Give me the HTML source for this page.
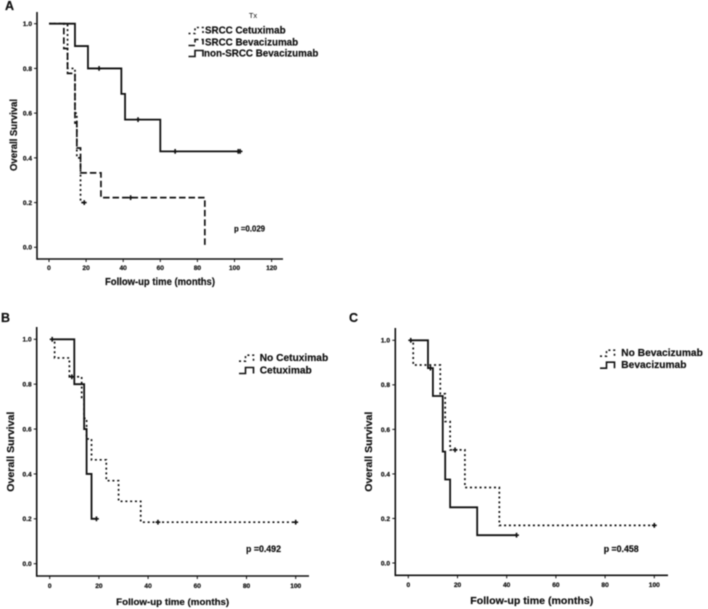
<!DOCTYPE html>
<html>
<head>
<meta charset="utf-8">
<style>
html,body{margin:0;padding:0;background:#fff;}
svg{display:block;filter:blur(0.4px);}
text{font-family:"Liberation Sans",sans-serif;fill:#111;stroke:#111;stroke-width:0.2px;}
</style>
</head>
<body>
<svg id="fig" xmlns="http://www.w3.org/2000/svg" width="708" height="609" viewBox="0 0 708 609"></svg>
<script>
// Panel A data
const aTickX = [0, 20, 40, 60, 80, 100, 120];
const aTickY = [0, 0.2, 0.4, 0.6, 0.8, 1];
const aCetuximabTimes = [0, 10, 14, 15, 17, 19];
const aCetuximabSurvival = [1, 0.8, 0.6, 0.4, 0.2, 0.2];
const aCetuximabCensored = [19];
const aBevacizumabTimes = [0, 8, 10, 14, 15, 17, 28, 84];
const aBevacizumabSurvival = [1, 0.889, 0.778, 0.556, 0.444, 0.333, 0.222, 0];
const aBevacizumabCensored = [44];
const aNonSrccTimes = [0, 14, 21, 39, 41, 60, 103];
const aNonSrccSurvival = [1, 0.9, 0.8, 0.686, 0.571, 0.429, 0.429];
const aNonSrccCensored = [27, 48, 68, 102, 103];
// Panel B data
const bTickX = [0, 20, 40, 60, 80, 100];
const bTickY = [0, 0.2, 0.4, 0.6, 0.8, 1];
const bNoCetuximabTimes = [1, 2, 8, 13, 14, 15, 17, 23, 28, 37, 100];
const bNoCetuximabSurvival = [1, 0.917, 0.833, 0.741, 0.648, 0.556, 0.463, 0.37, 0.278, 0.185, 0.185];
const bNoCetuximabCensored = [1, 9, 44, 100];
const bCetuximabTimes = [1, 10, 14, 15, 17, 19];
const bCetuximabSurvival = [1, 0.8, 0.6, 0.4, 0.2, 0.2];
const bCetuximabCensored = [19];
// Panel C data
const cTickX = [0, 20, 40, 60, 80, 100];
const cTickY = [0, 0.2, 0.4, 0.6, 0.8, 1];
const cNoBevacizumabTimes = [1, 2, 13, 15, 17, 23, 37, 100];
const cNoBevacizumabSurvival = [1, 0.889, 0.76, 0.635, 0.508, 0.339, 0.169, 0.169];
const cNoBevacizumabCensored = [1, 19, 100];
const cBevacizumabTimes = [1, 8, 10, 14, 15, 17, 28, 44];
const cBevacizumabSurvival = [1, 0.875, 0.75, 0.5, 0.375, 0.25, 0.125, 0.125];
const cBevacizumabCensored = [9, 44];

const NS = 'http://www.w3.org/2000/svg';
const fig = document.getElementById('fig');
const DOTTED = '2 2.8';
const DASHED = '6.5 3';

function shape(tag, attrs) {
  const el = document.createElementNS(NS, tag);
  for (const k in attrs) el.setAttribute(k, attrs[k]);
  fig.appendChild(el);
  return el;
}
function line(name, x1, y1, x2, y2, width, dash) {
  const el = shape('line', {x1: x1, y1: y1, x2: x2, y2: y2, stroke: '#111', 'stroke-width': width});
  if (dash) el.setAttribute('stroke-dasharray', dash);
  
  
  return el;
}
function label(name, str, x, y, size, opts) {
  const o = opts || {};
  const el = shape('text', {x: x, y: y, 'font-size': size, 'font-weight': o.weight || 'bold', 'text-anchor': o.anchor || 'start'});
  if (o.rotate) el.setAttribute('transform', 'rotate(-90 ' + x + ' ' + y + ')');
  if (o.length) { el.setAttribute('textLength', o.length); el.setAttribute('lengthAdjust', 'spacingAndGlyphs'); }
  if (o.weight === 'normal') el.setAttribute('style', 'stroke:none');
  el.textContent = str;
  
  
  return el;
}
function axisFns(g) {
  return {
    x: function (v) { return g.x0 + v * g.xs; },
    y: function (v) { return g.y0 - v * g.ys; }
  };
}
function drawAxes(id, g, ticksX, ticksY) {
  const s = axisFns(g);
  line(id + '-y-axis', g.left, g.top, g.left, g.bottom + 0.8, 1.6);
  line(id + '-x-axis', g.left, g.bottom, g.right, g.bottom, 1.6);
  ticksX.forEach(function (t) {
    line(id + '-x-tick', s.x(t), g.bottom, s.x(t), g.bottom + 3, 1);
    label(id + '-x-tick-label', String(t), s.x(t), g.xLabelY, 6.6, {anchor: 'middle'});
  });
  ticksY.forEach(function (t) {
    line(id + '-y-tick', g.left - 3, s.y(t), g.left, s.y(t), 1);
    label(id + '-y-tick-label', t.toFixed(1), g.yLabelX, s.y(t) + 2.4, 6.6, {anchor: 'end'});
  });
}
function drawCurve(name, g, times, values, censored, dash, width) {
  const s = axisFns(g);
  let d = 'M' + s.x(times[0]) + ' ' + s.y(values[0]);
  for (let i = 1; i < times.length; i++) {
    d += 'L' + s.x(times[i]) + ' ' + s.y(values[i - 1]) + 'L' + s.x(times[i]) + ' ' + s.y(values[i]);
  }
  const path = shape('path', {d: d, fill: 'none', stroke: '#111', 'stroke-width': width});
  if (dash) path.setAttribute('stroke-dasharray', dash);
  
  
  censored.forEach(function (c) {
    let v = values[0];
    for (let i = 0; i < times.length; i++) { if (times[i] <= c) v = values[i]; }
    line(name + '-censor-h', s.x(c) - 2.4, s.y(v), s.x(c) + 2.4, s.y(v), 1.6);
    line(name + '-censor-v', s.x(c), s.y(v) - 2.4, s.x(c), s.y(v) + 2.4, 1.6);
  });
}
function legendEntry(name, str, x, y, size, dash, width, textX) {
  const d = 'M' + x + ' ' + (y + 3.5) + 'h6.5v-6h8v6';
  const el = shape('path', {d: d, fill: 'none', stroke: '#111', 'stroke-width': width});
  if (dash) el.setAttribute('stroke-dasharray', dash);
  
  
  label(name + '-label', str, textX, y + 3.5, size);
}

// Panel A
const gA = {x0: 49, xs: 1.855, y0: 247.3, ys: 223.6, left: 37, right: 283, top: 12, bottom: 259, xLabelY: 270, yLabelX: 32};
label('panel-a-label', 'A', 5, 10, 12.5);
drawAxes('panel-a', gA, aTickX, aTickY);
drawCurve('a-srcc-cetuximab-curve', gA, aCetuximabTimes, aCetuximabSurvival, aCetuximabCensored, DOTTED, 1.7);
drawCurve('a-srcc-bevacizumab-curve', gA, aBevacizumabTimes, aBevacizumabSurvival, aBevacizumabCensored, DASHED, 1.7);
drawCurve('a-non-srcc-bevacizumab-curve', gA, aNonSrccTimes, aNonSrccSurvival, aNonSrccCensored, null, 1.8);
label('a-legend-title', 'Tx', 253, 18, 7.5, {weight: 'normal', anchor: 'middle'});
legendEntry('a-legend-cetuximab', 'SRCC Cetuximab', 188.5, 30, 9.8, DOTTED, 1.6, 205);
legendEntry('a-legend-bevacizumab', 'SRCC Bevacizumab', 188.5, 42, 9.8, DASHED, 1.6, 205);
legendEntry('a-legend-non-srcc', 'non-SRCC Bevacizumab', 188.5, 53, 9.8, null, 1.6, 204);
label('a-p-value', 'p =0.029', 234, 231.5, 7.8);
label('a-x-axis-title', 'Follow-up time (months)', 160, 285, 9.8, {anchor: 'middle', length: 110});
label('a-y-axis-title', 'Overall Survival', 17, 135, 9.8, {anchor: 'middle', rotate: true, length: 72});

// Panel B
const gB = {x0: 49.7, xs: 2.46, y0: 563.7, ys: 224.4, left: 36.7, right: 309, top: 327, bottom: 576, xLabelY: 588, yLabelX: 31.7};
label('panel-b-label', 'B', 1, 322, 12.5);
drawAxes('panel-b', gB, bTickX, bTickY);
drawCurve('b-no-cetuximab-curve', gB, bNoCetuximabTimes, bNoCetuximabSurvival, bNoCetuximabCensored, DOTTED, 1.7);
drawCurve('b-cetuximab-curve', gB, bCetuximabTimes, bCetuximabSurvival, bCetuximabCensored, null, 1.8);
legendEntry('b-legend-no-cetuximab', 'No Cetuximab', 239, 357.7, 10.2, DOTTED, 1.6, 259.7);
legendEntry('b-legend-cetuximab', 'Cetuximab', 239, 370, 10.2, null, 1.6, 259.7);
label('b-p-value', 'p =0.492', 246, 551.8, 8.8);
label('b-x-axis-title', 'Follow-up time (months)', 172.7, 605, 9.6, {anchor: 'middle', length: 113});
label('b-y-axis-title', 'Overall Survival', 14, 451.7, 10.4, {anchor: 'middle', rotate: true, length: 80});

// Panel C
const gC = {x0: 408.3, xs: 2.46, y0: 563, ys: 222.7, left: 395.3, right: 668, top: 328, bottom: 575.3, xLabelY: 587, yLabelX: 390};
label('panel-c-label', 'C', 349, 322, 12.5);
drawAxes('panel-c', gC, cTickX, cTickY);
drawCurve('c-no-bevacizumab-curve', gC, cNoBevacizumabTimes, cNoBevacizumabSurvival, cNoBevacizumabCensored, DOTTED, 1.7);
drawCurve('c-bevacizumab-curve', gC, cBevacizumabTimes, cBevacizumabSurvival, cBevacizumabCensored, null, 1.8);
legendEntry('c-legend-no-bevacizumab', 'No Bevacizumab', 600, 352.7, 10.2, DOTTED, 1.6, 621.3);
legendEntry('c-legend-bevacizumab', 'Bevacizumab', 600, 364.7, 10.2, null, 1.6, 621.3);
label('c-p-value', 'p =0.458', 603.7, 551.8, 8.8);
label('c-x-axis-title', 'Follow-up time (months)', 531.8, 604, 10.4, {anchor: 'middle', length: 123});
label('c-y-axis-title', 'Overall Survival', 372, 451.7, 10.4, {anchor: 'middle', rotate: true, length: 80});
</script>
</body>
</html>
